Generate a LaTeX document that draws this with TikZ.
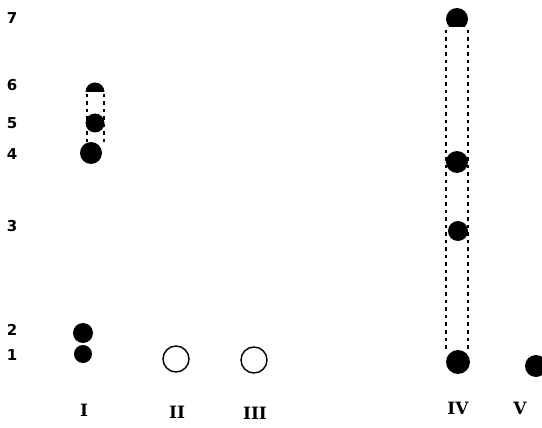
\documentclass[tikz,border=0pt]{standalone}
\usepackage{fontspec}
\usepackage{tikz}
\usetikzlibrary{positioning,calc}
\newfontfamily\levelfont{DejaVu Sans}
\newfontfamily\groupfont{DejaVu Serif}
\tikzset{
  dot/.style={circle,fill=black,inner sep=0pt,minimum size=#1},
  dot/.default=20pt,
  ring/.style={circle,draw=black,line width=1.4pt,inner sep=0pt,minimum size=26pt},
  level/.style={font=\levelfont\bfseries\fontsize{15}{15}\selectfont,anchor=center},
  group/.style={font=\groupfont\bfseries\fontsize{17}{17}\selectfont,anchor=center},
  link/.style={line width=1.9pt,dash pattern=on 3.5pt off 4pt},
}

\begin{document}
\begin{tikzpicture}[x=1pt,y=-1pt]
  \useasboundingbox (0,0) rectangle (542,428);

  % level numbers
  \node[level] (n7) at (12,18) {7};
  \node[level] (n6) at (12,85) {6};
  \node[level] (n5) at (12,123) {5};
  \node[level] (n4) at (12,154) {4};
  \node[level] (n3) at (12,226) {3};
  \node[level] (n2) at (12,330) {2};
  \node[level] (n1) at (12,355) {1};

  % group I
  \node[dot=22pt] (i4) at (91,153) {};
  \node[dot=19pt] (i5) at (95,123) {};
  \begin{scope}
    \clip (80,70) rectangle (112,92);
    \node[dot=19pt] (i6) at (95,92) {};
  \end{scope}
  \coordinate (i6l) at (87,94);
  \coordinate (i6r) at (104,94);
  \draw[link] (i6l) -- (i6l |- i4.north);
  \draw[link] (i6r) -- (i6r |- i4.north);
  \node[dot=20pt] (i2) at (83,333) {};
  \node[dot=18pt] (i1) at (83,354) {};

  % groups II and III
  \node[ring] (ii1) at (176,359) {};
  \node[ring] (iii1) at (254,360) {};

  % group IV
  \begin{scope}
    \clip (440,0) rectangle (475,27);
    \node[dot=22pt] (iv7) at (457,19) {};
  \end{scope}
  \node[dot=22pt] (iv4) at (457,162) {};
  \node[dot=20pt] (iv3) at (458,231) {};
  \node[dot=24pt] (iv1) at (458,362) {};
  \coordinate (iv7l) at (446,30);
  \coordinate (iv7r) at (468,30);
  \draw[link] (iv7l) -- (iv7l |- iv1.north);
  \draw[link] (iv7r) -- (iv7r |- iv1.north);

  % group V
  \node[dot=22pt] (v1) at (536,366) {};

  % group labels
  \node[group] (gi) at (84,410) {I};
  \node[group] (gii) at (177,412) {II};
  \node[group] (giii) at (255,413) {III};
  \node[group] (giv) at (458,408) {IV};
  \node[group] (gv) at (520,408) {V};
\end{tikzpicture}
\end{document}
